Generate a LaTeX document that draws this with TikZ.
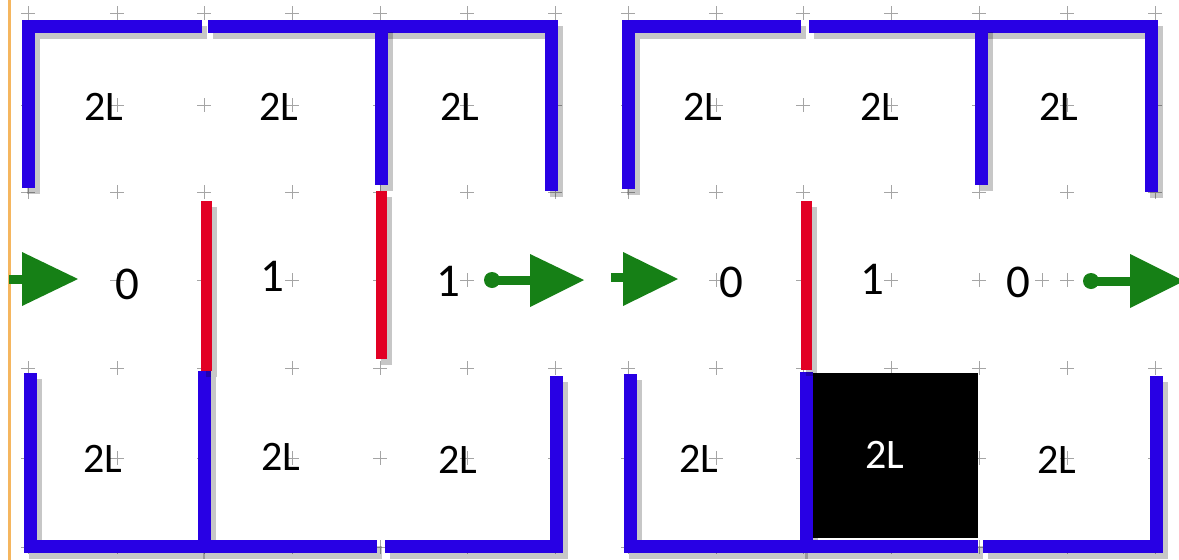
\documentclass[tikz,border=0pt]{standalone}
\usepackage{fontspec}
\setmainfont{Carlito}
\definecolor{wallblue}{RGB}{40,0,228}
\definecolor{doorred}{RGB}{226,0,36}
\definecolor{flowgreen}{RGB}{22,128,22}
\definecolor{edgeorange}{RGB}{245,182,95}
\definecolor{markgray}{RGB}{165,165,165}
\begin{document}
\begin{tikzpicture}[x=1pt,y=-1pt,
  wall/.style={draw=wallblue,line width=13pt,line join=miter,
    preaction={draw=black,opacity=0.22,line width=13pt,transform canvas={shift={(5pt,-6pt)}}}},
  door/.style={draw=doorred,line width=11pt,
    preaction={draw=black,opacity=0.22,line width=11pt,transform canvas={shift={(5pt,-6pt)}}}},
  lbl/.style={font=\fontsize{42}{42}\selectfont,inner sep=0pt,text=black},
  num/.style={font=\fontsize{47}{47}\selectfont,inner sep=0pt,text=black},
  gridmark/.style={draw=markgray,line width=0.8pt},
  flowline/.style={draw=flowgreen,line width=9pt},
  flowhead/.style={fill=flowgreen,draw=none},
]
\useasboundingbox (0,0) rectangle (1179,560);
\fill[white] (0,0) rectangle (1179,560);
% page edge
\draw[edgeorange,line width=3pt] (9,0) -- (9,560);
% grid marks
\foreach \x in {28,117,204,292,380,467,555,628,716,803,891,979,1067,1155}
  \foreach \y in {13,105,192,280,368,458,547}
    \draw[gridmark] (\x-7,\y) -- (\x+7,\y) (\x,\y-7) -- (\x,\y+7);
\draw[gridmark] (1035,280) -- (1049,280) (1042,273) -- (1042,287);
% blocked cell
\fill[black] (812,373) rectangle (978,538);
% ---------- left panel walls ----------
\draw[wall] (28,188) -- (28,26) -- (202,26);
\draw[wall] (208,26) -- (551,26) -- (551,191);
\draw[wall] (381,26) -- (381,185);
\draw[wall] (30,373) -- (30,546) -- (200,546);
\draw[wall] (204,371) -- (204,546) -- (377,546);
\draw[wall] (385,546) -- (556,546) -- (556,376);
\draw[door] (206,201) -- (206,371);
\draw[door] (381,191) -- (381,359);
% ---------- right panel walls ----------
\draw[wall] (628,189) -- (628,26) -- (801,26);
\draw[wall] (809,26) -- (1151,26) -- (1151,192);
\draw[wall] (981,26) -- (981,185);
\draw[wall] (630,374) -- (630,546) -- (803,546);
\draw[wall] (806,372) -- (806,546) -- (978,546);
\draw[wall] (983,546) -- (1156,546) -- (1156,376);
\draw[door] (806,201) -- (806,370);
% ---------- labels left panel ----------
\node[lbl] (a1) at (104,107) {2L};
\node[lbl] (a2) at (279,107) {2L};
\node[lbl] (a3) at (460,107) {2L};
\node[num] (a4) at (127,284) {0};
\node[num] (a5) at (272,276) {1};
\node[num] (a6) at (448,281) {1};
\node[lbl] (a7) at (103,459) {2L};
\node[lbl] (a8) at (281,457) {2L};
\node[lbl] (a9) at (458,460) {2L};
% ---------- labels right panel ----------
\node[lbl] (b1) at (703,107) {2L};
\node[lbl] (b2) at (880,107) {2L};
\node[lbl] (b3) at (1059,107) {2L};
\node[num] (b4) at (731,282) {0};
\node[num] (b5) at (872,279) {1};
\node[num] (b6) at (1018,282) {0};
\node[lbl] (b7) at (699,459) {2L};
\node[lbl,text=white] (b8) at (885,455) {2L};
\node[lbl] (b9) at (1057,460) {2L};
% ---------- flow arrows ----------
\coordinate (inA0) at (9,279);
\coordinate (inA1) at (24,279);
\draw[flowline] (inA0) -- (inA1);
\fill[flowhead] (22,252) -- (78,279) -- (22,306) -- cycle;
\coordinate (outA0) at (492,280);
\coordinate (outA1) at (532,280);
\fill[flowgreen] (outA0) circle (8);
\draw[flowline] (outA0) -- (outA1);
\fill[flowhead] (530,254) -- (584,280) -- (530,307) -- cycle;
\coordinate (inB0) at (611,277);
\coordinate (inB1) at (626,277);
\draw[flowline] (inB0) -- (inB1);
\fill[flowhead] (623,252) -- (678,279) -- (623,306) -- cycle;
\coordinate (outB0) at (1091,281);
\coordinate (outB1) at (1132,281);
\fill[flowgreen] (outB0) circle (8);
\draw[flowline] (outB0) -- (outB1);
\fill[flowhead] (1130,254) -- (1184,281) -- (1130,308) -- cycle;
\end{tikzpicture}
\end{document}
